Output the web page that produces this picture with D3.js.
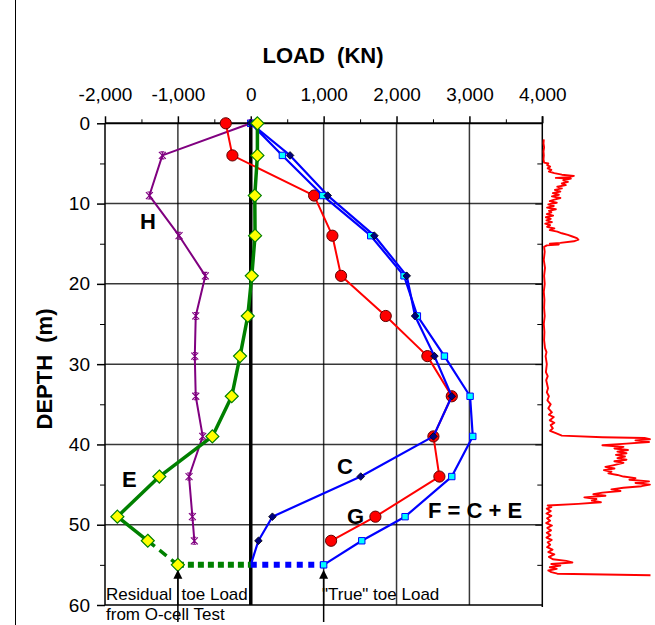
<!DOCTYPE html>
<html>
<head>
<meta charset="utf-8">
<script src="https://cdn.jsdelivr.net/npm/d3@7/dist/d3.min.js"></script>
<style>
  html, body { margin: 0; padding: 0; background: #fff; }
  svg { display: block; font-family: "Liberation Sans", Arial, Helvetica, sans-serif; }
</style>
</head>
<body>
<svg id="chart" width="655" height="625"></svg>
<script>
// Depth of each gauge level (m)
const depths = [0, 4, 9, 14, 19, 24, 29, 34, 39, 44, 49, 52];
// Load distributions (kN) at those depths
const loadH = [0, -1213, -1391, -984, -623, -755, -768, -755, -659, -847, -801, -774];
const loadE = [91, 91, 55, 59, 14, -41, -147, -261, -527, -1254, -1830, -1413];
const loadC = [0, 539, 1056, 1696, 2140, 2254, 2520, 2758, 2506, 1509, 297, 105];
const loadF = [0, 434, 988, 1646, 2103, 2286, 2657, 3009, 3046, 2758, 2117, 1523];
const loadG = [-343, -252, 869, 1120, 1239, 1852, 2423, 2758, 2506, 2588, 1710, 1102];

// Pile toe
const toeDepth = 55;
const residualToe = -1000;   // E at the toe (O-cell residual)
const toeC = 0;              // C at the toe
const trueToe = 1000;        // F at the toe

// Axis ticks
const loadTicks = [-2000, -1000, 0, 1000, 2000, 3000, 4000];
const loadMinorTicks = [-1500, -500, 500, 1500, 2500, 3500];
const loadGrid = [-1000, 1000, 2000, 3000];
const depthTicks = [0, 10, 20, 30, 40, 50, 60];
const depthMinorTicks = [5, 15, 25, 35, 45, 55];
const depthGrid = [10, 20, 30, 40, 50];

// Cone sounding profile beside the pile (depth m, relative resistance)
const traceDepth = [2.0, 2.5, 3.0, 3.5, 4.0, 4.5, 4.9, 5.0, 5.2, 5.4, 5.6, 5.8, 6.0, 6.2, 6.4, 6.55, 6.7, 6.8, 6.9, 7.1,
  7.3, 7.5, 7.7, 7.9, 8.1, 8.3, 8.5, 8.7, 8.9, 9.1, 9.3, 9.5, 9.7, 9.9, 10.1, 10.3, 10.5, 10.7, 10.9, 11.1,
  11.3, 11.5, 11.7, 11.9, 12.1, 12.3, 12.5, 12.7, 12.9, 13.1, 13.3, 13.5, 13.7, 13.9, 14.1, 14.3, 14.5, 14.7, 14.9, 15.0,
  15.1, 15.2, 15.4, 16, 17, 18, 19, 20, 21, 22, 23, 24, 25, 26, 27, 28, 28.5, 29, 30, 31,
  31.5, 32, 33, 33.5, 34, 34.5, 35, 35.5, 36, 36.3, 36.6, 37, 37.3, 37.6, 38, 38.3, 38.6, 38.9, 39.1, 39.2,
  39.35, 39.5, 39.7, 39.9, 40.1, 40.3, 40.5, 40.7, 40.9, 41.1, 41.3, 41.5, 41.7, 41.9, 42.1, 42.3, 42.6, 42.8, 43.0, 43.2,
  43.4, 43.6, 43.8, 44.0, 44.2, 44.4, 44.6, 44.8, 45.0, 45.2, 45.4, 45.6, 45.8, 46.0, 46.2, 46.4, 46.6, 46.8, 47.0, 47.2,
  47.4, 47.6, 47.8, 48.0, 48.3, 48.6, 48.9, 49.2, 49.5, 49.8, 50.1, 50.4, 50.7, 51.0, 51.3, 51.6, 51.9, 52.2, 52.5, 52.8,
  53.1, 53.4, 53.7, 54.0, 54.3, 54.5, 54.7, 54.9, 55.1, 55.3, 55.5, 55.7, 55.9, 56.1, 56.3];
const traceValue = [0.5, 0.4, 0.6, 0.4, 0.5, 0.4, 0.6, 2.0, 1.6, 2.6, 1.8, 3.0, 2.2, 4.0, 6.5, 10.5, 9.0, 4.5, 9.5, 7.0,
  8.5, 6.5, 7.8, 5.0, 6.5, 4.2, 6.0, 3.5, 5.5, 3.2, 6.0, 4.0, 2.5, 4.8, 2.0, 3.8, 1.6, 4.5, 2.2, 3.0,
  1.5, 3.6, 1.2, 2.8, 1.4, 3.2, 1.0, 2.6, 1.6, 4.0, 2.5, 5.0, 6.5, 8.5, 10.0, 11.5, 12.0, 10.5, 6.0, 2.5,
  5.5, 1.5, 0.6, 0.8, 0.5, 0.9, 0.6, 0.8, 0.5, 0.7, 0.6, 0.8, 0.5, 0.7, 0.6, 0.9, 1.4, 1.1, 1.5, 1.2,
  1.8, 1.3, 1.9, 1.5, 2.2, 1.7, 2.8, 2.0, 3.2, 2.2, 3.8, 2.5, 4.0, 2.8, 3.5, 2.6, 4.5, 6.5, 20.0, 34.0,
  35.8, 31.0, 35.5, 28.0, 20.0, 27.0, 24.0, 28.5, 25.0, 28.0, 24.5, 27.5, 25.0, 28.0, 24.0, 27.0, 23.5, 21.0, 24.0, 20.5,
  23.0, 22.0, 25.0, 27.0, 31.0, 29.0, 35.5, 31.0, 35.8, 33.0, 27.0, 23.0, 26.0, 20.0, 17.0, 21.0, 14.0, 18.0, 16.5, 19.5,
  12.0, 1.8, 3.0, 1.5, 2.8, 1.4, 3.0, 1.6, 2.6, 1.3, 3.2, 1.7, 2.9, 1.5, 2.7, 1.4, 3.1, 1.8, 2.6, 1.6,
  3.4, 2.0, 4.0, 2.2, 3.5, 8.0, 10.0, 3.0, 6.0, 2.5, 4.8, 2.0, 3.0, 5.0, 36.0];

const svg = d3.select("#chart");
const W = 655, Hgt = 625;
svg.append("rect").attr("width", W).attr("height", Hgt).attr("fill", "#fff");

// Scales
const x = d3.scaleLinear().domain([-2000, 4000]).range([105, 542.3]);
const y = d3.scaleLinear().domain([0, 60]).range([123.3, 605]);
const xTrace = d3.scaleLinear().domain([0, 36]).range([542.3, 650.5]);

const xL = x.range()[0], xR = x.range()[1];
const yT = y.range()[0], yB = y.range()[1];

// Left frame line
svg.append("path").attr("d", `M15.5,0V${Hgt}`).attr("stroke", "#000").attr("stroke-width", 1).attr("fill", "none");

// Grid lines, one path per line
const gridG = svg.append("g");
loadGrid.forEach(v => {
  gridG.append("path").attr("d", `M${x(v)},${yT}V${yB}`)
    .attr("fill", "none").attr("stroke", "#000").attr("stroke-opacity", 0.78).attr("stroke-width", 1.5);
});
depthGrid.forEach(v => {
  gridG.append("path").attr("d", `M${xL},${y(v)}H${xR}`)
    .attr("fill", "none").attr("stroke", "#000").attr("stroke-opacity", 0.78).attr("stroke-width", 1.5);
});

// Zero-load line
svg.append("path").attr("d", `M${x(0)},${yT}V${yB}`).attr("stroke", "#000").attr("stroke-width", 3.5).attr("fill", "none");

// Bottom and right borders
svg.append("path").attr("d", `M${xL},${yB}H${xR}`).attr("stroke", "#000").attr("stroke-width", 1.5).attr("fill", "none");
svg.append("path").attr("d", `M${xR},${yT - 7}V${yB + 2}`).attr("stroke", "#000").attr("stroke-width", 1.5).attr("fill", "none");

const fmt = d => d3.format(",")(d).replace("\u2212", "-");

// Top axis (load)
const topAxis = svg.append("g").attr("transform", `translate(0,${yT})`)
  .call(d3.axisTop(x).tickValues(loadTicks).tickFormat(fmt).tickSize(7).tickPadding(15));
svg.append("g").attr("transform", `translate(0,${yT})`)
  .call(d3.axisTop(x).tickValues(loadMinorTicks).tickFormat("").tickSize(4))
  .call(g => g.select(".domain").remove());
topAxis.select(".domain").attr("stroke-width", 2).attr("d", `M${xL},0H${xR}`);
topAxis.selectAll(".tick line").attr("stroke-width", 1.5);
topAxis.selectAll("text").attr("font-size", 19).attr("fill", "#000")
  .attr("font-family", "'Liberation Sans', Arial, sans-serif");

// Left axis (depth)
const leftAxis = svg.append("g").attr("transform", `translate(${xL},0)`)
  .call(d3.axisLeft(y).tickValues(depthTicks).tickSize(8).tickPadding(7));
svg.append("g").attr("transform", `translate(${xL},0)`)
  .call(d3.axisLeft(y).tickValues(depthMinorTicks).tickFormat("").tickSize(5))
  .call(g => g.select(".domain").remove());
leftAxis.select(".domain").attr("stroke-width", 1.5).attr("d", `M0,${yT}V${yB}`);
leftAxis.selectAll(".tick line").attr("stroke-width", 1.5);
leftAxis.selectAll("text").attr("font-size", 19).attr("fill", "#000")
  .attr("font-family", "'Liberation Sans', Arial, sans-serif");

// Right-side ticks (pointing into the plot)
svg.append("g").attr("transform", `translate(${xR},0)`)
  .call(d3.axisLeft(y).tickValues(depthGrid).tickFormat("").tickSize(7))
  .call(g => g.select(".domain").remove());
svg.append("g").attr("transform", `translate(${xR},0)`)
  .call(d3.axisLeft(y).tickValues(depthMinorTicks).tickFormat("").tickSize(5))
  .call(g => g.select(".domain").remove());

// Axis titles
svg.append("text").attr("x", 323).attr("y", 63).attr("text-anchor", "middle")
  .attr("font-size", 22).attr("font-weight", "bold").text("LOAD\u00A0\u00A0(KN)");
svg.append("text").attr("transform", "translate(52,369) rotate(-90)").attr("text-anchor", "middle")
  .attr("font-size", 22).attr("font-weight", "bold").text("DEPTH\u00A0\u00A0(m)");

// Series helpers
const pts = (vals, ds) => vals.map((v, i) => [v, ds[i]]);
const line = d3.line().x(d => x(d[0])).y(d => y(d[1]));

function series(data, color, width) {
  svg.append("path").datum(data).attr("d", line)
    .attr("fill", "none").attr("stroke", color).attr("stroke-width", width)
    .attr("stroke-linejoin", "round");
}
function markers(data, pathStr, fill, stroke, sw) {
  const g = svg.append("g");
  data.forEach(d => {
    g.append("path")
      .attr("transform", `translate(${x(d[0])},${y(d[1])})`)
      .attr("d", pathStr).attr("fill", fill).attr("stroke", stroke).attr("stroke-width", sw);
  });
}

const dataH = pts(loadH, depths);
const dataG = pts(loadG, depths);
const dataE = pts(loadE, depths);
const dataC = pts(loadC, depths).concat([[toeC, toeDepth]]);
const dataF = pts(loadF, depths).concat([[trueToe, toeDepth]]);
const toeE = [[loadE[loadE.length - 1], depths[depths.length - 1]], [residualToe, toeDepth]];

// H
series(dataH, "#800080", 2);
markers(dataH, "M-3.5,-3.5L3.5,3.5M-3.5,3.5L3.5,-3.5M0,-3.5V3.5M-2,-3.5H2M-2,3.5H2", "none", "#800080", 1.1);

// G
series(dataG, "#ff0000", 2);
markers(dataG, d3.symbol(d3.symbolCircle, Math.PI * 5.6 * 5.6)(), "#ff0000", "#600000", 1);

// F and C
series(dataF, "#0000ff", 2.2);
series(dataC, "#0000ff", 2.2);

// Toe load lines: residual (green) and true (blue)
svg.append("path").attr("d", `M${x(residualToe)},${y(toeDepth)}H${x(toeC)}`).attr("fill", "none")
  .attr("stroke", "#008000").attr("stroke-width", 6).attr("stroke-dasharray", "6,4");
svg.append("path").attr("d", `M${x(toeC)},${y(toeDepth)}H${x(trueToe)}`).attr("fill", "none")
  .attr("stroke", "#0000ff").attr("stroke-width", 6).attr("stroke-dasharray", "6,5.5");

markers(dataF, "M-3.2,-3.2H3.2V3.2H-3.2Z", "#00ffff", "#0000ff", 1);
markers(dataC.slice(0, -1), "M0,-3.8L3.8,0L0,3.8L-3.8,0Z", "#000080", "#000", 0.8);

// E
series(dataE, "#008000", 3.5);
svg.append("path").datum(toeE).attr("d", line).attr("fill", "none")
  .attr("stroke", "#008000").attr("stroke-width", 3.5).attr("stroke-dasharray", "9,6");
markers(dataE.concat([[residualToe, toeDepth]]), "M0,-6.5L6.5,0L0,6.5L-6.5,0Z", "#ffff00", "#008000", 1.2);

// Series labels
const lab = (t, xx, yy) => svg.append("text").attr("x", xx).attr("y", yy)
  .attr("font-size", 22).attr("font-weight", "bold").attr("fill", "#000").text(t);
lab("H", 140, 229);
lab("E", 122, 487);
lab("C", 337, 474);
lab("G", 347, 524);
lab("F = C + E", 428, 518);

// Annotations
const note = (t, xx, yy) => svg.append("text").attr("x", xx).attr("y", yy)
  .attr("font-size", 17).attr("fill", "#000").text(t);
note("Residual\u00A0 toe Load", 106, 600);
note("from O-cell Test", 106, 620);
note("\"True\" toe Load", 322, 600);

function arrow(xv) {
  const ax = x(xv), tip = y(toeDepth) + 5;
  svg.append("path").attr("d", `M${ax},${tip + 6}V622`).attr("stroke", "#000").attr("stroke-width", 1.5).attr("fill", "none");
  svg.append("path").attr("d", `M${ax},${tip}L${ax + 4.5},${tip + 9}L${ax - 4.5},${tip + 9}Z`).attr("fill", "#000");
}
arrow(residualToe);
arrow(trueToe);

// Cone sounding trace
const traceLine = d3.line().x(d => xTrace(d[1])).y(d => y(d[0]));
svg.append("path").datum(traceDepth.map((d, i) => [d, traceValue[i]])).attr("d", traceLine)
  .attr("fill", "none").attr("stroke", "#ff0000").attr("stroke-width", 1.9).attr("stroke-linejoin", "round");
</script>
</body>
</html>
